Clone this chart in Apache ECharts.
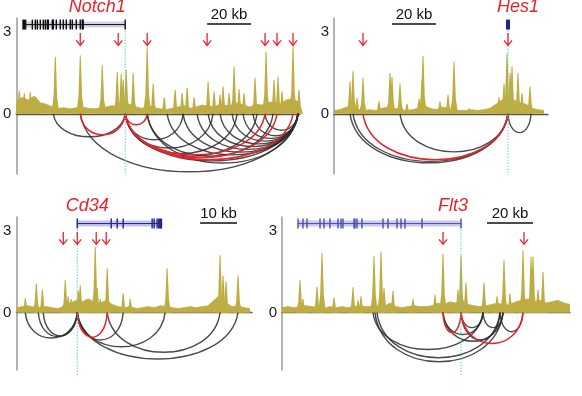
<!DOCTYPE html>
<html>
<head>
<meta charset="utf-8">
<title>loops</title>
<script src="https://cdn.jsdelivr.net/npm/echarts@6.0.0/dist/echarts.min.js"></script>
<style>
html,body{margin:0;padding:0;background:#fff;}
#main{width:582px;height:396px;}
</style>
</head>
<body>
<div id="main"></div>
<script>
// ---- data (x = position along the locus, y = signal) ----
// Notch1
var notchBg = [0.45,0.6,0.5,0.65,0.4,0.35,0.25,0.2,0.22,0.18,0.22,0.25,0.2,0.18,0.22,0.25,0.3,0.25,0.3,0.35,0.25,0.2,0.3,0.22,0.18,0.15,0.2,0.25,0.3,0.2,0.25,0.32,0.28,0.25,0.35,0.3,0.32,0.4,0.3,0.25,0.35,0.32,0.4,0.45,0.35,0.5,0.55,0.45];
var notchPeaks = [[3,0.85],[8,0.75],[14,0.8],[20,0.6],[39,2.08],[64,2.14],[86,1.77],[101,1.52],[105,1.45],[107,1.25],[110,1.6],[117,1.5],[131,2.45],[137,1.1],[148,0.6],[159,0.88],[166,0.76],[171,0.95],[178,0.6],[192,1.18],[198,0.82],[204,0.7],[207,1.0],[213,0.76],[218,1.72],[223,0.91],[228,0.76],[239,1.32],[250,2.28],[258,1.24],[262,1.36],[266,0.82],[277,2.46],[283,0.88]];
var notchLoops = [[37,109,-0.84],[64,282,-2.12],[131,282,-1.8],[109,167,-0.95],[109,197,-1.25],[109,221,-1.45],[109,241,-1.55],[109,282,-1.72],[131,257,-1.55],[151,282,-1.5],[167,282,-1.4],[181,282,-1.3],[192,282,-1.2],[204,282,-1.1],[216,282,-1.0],[227,282,-0.9],[237,282,-0.8],[249,282,-0.6]];
var notchRedLoops = [[64,109,-0.77],[109,131,-0.4],[109,249,-1.5],[109,261,-1.6],[109,277,-1.68]];
var notchArrows = [64,102,131,191,249,261,277];
var notchExons = [16,19,21,24,27,29,31,32,36,37,40,44,47,50,54,56,60,64,66,67,109];

// Hes1
var hesBg = [0.12,0.15,0.25,0.2,0.15,0.12,0.15,0.12,0.2,0.25,0.2,0.15,0.12,0.15,0.2,0.3,0.2,0.15,0.25,0.2,0.15,0.12,0.12,0.15,0.12,0.15,0.2,0.35,0.5,0.65,0.5,0.4,0.35,0.2,0.15,0.12];
var hesPeaks = [[16,1.18],[19,1.55],[23,0.58],[29,1.31],[45,0.45],[56,1.49],[58,1.35],[66,1.12],[73,0.37],[85,0.55],[88,1.24],[89,2.12],[106,0.45],[114,0.7],[120,1.91],[135,0.2],[165,0.6],[170,1.1],[173,2.2],[176,1.5],[178,1.73],[184,1.49],[188,0.76],[196,1.0]];
var hesLoops = [[16,174,-1.79],[19,174,-1.74],[66,174,-1.39],[174,197,-0.69]];
var hesRedLoops = [[29,174,-1.68]];
var hesArrows = [29,174];
var hesExons = [];

// Cd34
var cdBg = [0.18,0.22,0.25,0.2,0.18,0.22,0.18,0.15,0.25,0.35,0.45,0.4,0.5,0.4,0.35,0.45,0.3,0.22,0.18,0.22,0.15,0.18,0.22,0.18,0.25,0.22,0.18,0.15,0.18,0.22,0.18,0.22,0.25,0.45,0.65,0.35,0.22,0.25,0.18,0.15];
var cdPeaks = [[9,0.53],[20,1.07],[26,0.84],[49,1.19],[52,0.6],[55,0.5],[62,0.8],[64,1.0],[70,0.5],[79,2.4],[81,0.9],[84,0.5],[91,1.62],[107,0.71],[114,0.5],[151,1.62],[204,2.1],[207,1.35],[210,1.15],[222,1.37]];
var cdLoops = [[9,61,-0.93],[22,61,-0.88],[27,61,-0.85],[61,107,-1.0],[61,149,-1.25],[91,204,-1.45],[61,222,-1.7]];
var cdRedLoops = [[61,91,-0.9]];
var cdArrows = [47,61,80,90];
var cdExons = [61,95,101,107,136,138,141];

// Flt3
var fltBg = [0.18,0.22,0.18,0.22,0.25,0.22,0.18,0.15,0.22,0.18,0.22,0.18,0.22,0.25,0.22,0.22,0.25,0.22,0.35,0.22,0.18,0.22,0.25,0.22,0.22,0.25,0.35,0.3,0.4,0.35,0.45,0.3,0.25,0.22,0.25,0.3,0.35,0.25,0.3,0.4,0.45,0.5,0.4,0.45,0.35,0.4,0.45,0.35,0.3];
var fltPeaks = [[18,1.2],[21,0.5],[35,0.95],[40,2.18],[52,0.55],[71,0.93],[76,0.45],[79,0.6],[92,2.08],[99,2.24],[102,0.9],[111,0.8],[131,0.5],[153,0.65],[161,2.15],[176,0.85],[179,2.1],[184,1.1],[202,1.1],[215,0.6],[222,1.93],[228,0.7],[241,2.28],[249,2.04],[251,2.05],[256,0.85],[261,1.5]];
var fltLoops = [[91,201,-1.35],[93,221,-1.8],[95,218,-1.65],[161,221,-1.05],[161,201,-0.8],[179,201,-0.55],[179,218,-1.0],[201,221,-0.55],[218,241,-0.7]];
var fltRedLoops = [[161,179,-0.73],[179,241,-1.13]];
var fltArrows = [161,242];
var fltExons = [16,21,25,38,42,48,56,59,61,72,73,75,80,101,106,115,119,123,140,179];

var yTicks = [0, 3];

// ---- styles ----
var olive = '#bead42';
var red = '#e8232b';
var teal = '#56d2b2';
var font = '"Liberation Sans", Arial, sans-serif';
var bgStep = 6;

var panels = [
  {name:'Notch1', bg:notchBg, peaks:notchPeaks, loops:notchLoops, red:notchRedLoops, arrows:notchArrows, exons:notchExons,
   gene:[7,109], block:[6,10], geneColor:'#111', band:'#d2d2e0', tss:109, low:-2.24, labelAt:81, scale:[191,235], scaleText:'20 kb',
   grid:{left:16, top:18, width:284, height:156}, ymin:-2.2},
  {name:'Hes1', bg:hesBg, peaks:hesPeaks, loops:hesLoops, red:hesRedLoops, arrows:hesArrows, exons:hesExons,
   gene:[172,176], block:[172,176], geneColor:'#23238a', band:null, tss:174, low:-2.24, labelAt:184, scale:[58,102], scaleText:'20 kb',
   grid:{left:334, top:18, width:214, height:156}, ymin:-2.2},
  {name:'Cd34', bg:cdBg, peaks:cdPeaks, loops:cdLoops, red:cdRedLoops, arrows:cdArrows, exons:cdExons,
   gene:[61,146], block:[142,146], geneColor:'#23238a', band:'#c4c4ea', tss:61, low:-2.28, labelAt:71, scale:[184,221], scaleText:'10 kb',
   grid:{left:16, top:217, width:236, height:153}, ymin:-2.1},
  {name:'Flt3', bg:fltBg, peaks:fltPeaks, loops:fltLoops, red:fltRedLoops, arrows:fltArrows, exons:fltExons,
   gene:[16,179], block:null, geneColor:'#4d4dae', band:'#cacaee', tss:179, low:-2.28, labelAt:171, scale:[205,251], scaleText:'20 kb',
   grid:{left:282, top:217, width:288, height:153}, ymin:-2.1}
];

// peak drawn as a spike with shoulders
function peakItem(params, api){
  var t = api.coord([api.value(0), api.value(1)]);
  var b = api.coord([api.value(0), 0]);
  var h = b[1] - t[1];
  return {type:'polygon', shape:{points:[[t[0]-4,b[1]],[t[0]-1.8,b[1]-h*0.3],[t[0]-0.5,t[1]],[t[0]+0.5,t[1]],[t[0]+1.8,b[1]-h*0.3],[t[0]+4,b[1]]]},
    style:{fill:olive}};
}

// loop drawn as a U curve under the axis
function loopItem(color, width){
  return function(params, api){
    var a = api.coord([api.value(0), 0]);
    var b = api.coord([api.value(1), 0]);
    var c = api.coord([api.value(0), api.value(2)]);
    var x1 = a[0], x2 = b[0], y0 = a[1], w = x2 - x1;
    var cy = y0 + (c[1] - y0) * 4 / 3;
    var path = 'M' + x1 + ' ' + y0 + ' C' + (x1 + 0.06*w) + ' ' + cy + ' ' + (x2 - 0.06*w) + ' ' + cy + ' ' + x2 + ' ' + y0;
    return {type:'path', shape:{pathData:path}, style:{fill:'none', stroke:color, lineWidth:width}};
  };
}

// gene model, arrows, tss line, scale bar, name
function annotate(p){
  return function(params, api){
    var kids = [];
    var gy = api.coord([0, 3.26])[1];
    var t1 = api.coord([p.tss, 3.26]), t2 = api.coord([p.tss, p.low]);
    kids.push({type:'line', shape:{x1:t1[0], y1:t1[1], x2:t2[0], y2:t2[1]}, style:{stroke:teal, lineWidth:1, lineDash:[1.5,1.5]}});
    var g1 = api.coord([p.gene[0], 3.26]), g2 = api.coord([p.gene[1], 3.26]);
    if (p.band) {
      kids.push({type:'rect', shape:{x:g1[0], y:gy-3, width:g2[0]-g1[0], height:6}, style:{fill:p.band}});
    }
    kids.push({type:'line', shape:{x1:g1[0], y1:gy, x2:g2[0], y2:gy}, style:{stroke:p.geneColor, lineWidth:1}});
    p.exons.forEach(function(e){
      var c = api.coord([e, 3.26]);
      kids.push({type:'rect', shape:{x:c[0]-0.7, y:gy-5, width:1.4, height:10}, style:{fill:p.geneColor}});
    });
    if (p.block) {
      var b1 = api.coord([p.block[0], 3.26]), b2 = api.coord([p.block[1], 3.26]);
      kids.push({type:'rect', shape:{x:b1[0], y:gy-5, width:b2[0]-b1[0], height:10}, style:{fill:p.geneColor}});
    }
    p.arrows.forEach(function(a){
      var top = api.coord([a, 2.95]), bot = api.coord([a, 2.5]);
      kids.push({type:'line', shape:{x1:top[0], y1:top[1], x2:bot[0], y2:bot[1]}, style:{stroke:red, lineWidth:1.3}});
      kids.push({type:'polyline', shape:{points:[[bot[0]-4, bot[1]-5],[bot[0], bot[1]],[bot[0]+4, bot[1]-5]]}, style:{stroke:red, fill:'none', lineWidth:1.3}});
    });
    var s1 = api.coord([p.scale[0], 3.28]), s2 = api.coord([p.scale[1], 3.28]), st = api.coord([(p.scale[0]+p.scale[1])/2, 3.6]);
    kids.push({type:'line', shape:{x1:s1[0], y1:s1[1], x2:s2[0], y2:s2[1]}, style:{stroke:'#111', lineWidth:1.5}});
    kids.push({type:'text', style:{text:p.scaleText, x:st[0], y:st[1], fill:'#111', font:'15px ' + font, align:'center', verticalAlign:'middle'}});
    var n = api.coord([p.labelAt, 3.9]);
    kids.push({type:'text', style:{text:p.name, x:n[0], y:n[1], fill:red, font:'italic 18px ' + font, align:'center', verticalAlign:'middle'}});
    return {type:'group', children:kids};
  };
}

var option = {animation:false, backgroundColor:'#fff', grid:[], xAxis:[], yAxis:[], series:[]};

panels.forEach(function(p, i){
  option.grid.push(p.grid);
  option.xAxis.push({type:'value', gridIndex:i, min:0, max:p.grid.width,
    axisLine:{show:true, onZero:true, lineStyle:{color:'#555', width:1.3}},
    axisTick:{show:false}, axisLabel:{show:false}, splitLine:{show:false}});
  option.yAxis.push({type:'value', gridIndex:i, min:p.ymin, max:3.5,
    axisLine:{show:true, onZero:false, lineStyle:{color:'#9a9a9a', width:1.5}},
    axisTick:{show:false}, splitLine:{show:false},
    axisLabel:{customValues:yTicks, color:'#222', fontSize:15, fontFamily:font, margin:5}});
  option.series.push({type:'line', xAxisIndex:i, yAxisIndex:i, symbol:'none', silent:true, z:2,
    data:p.bg.map(function(v, k){ return [k*bgStep, v]; }),
    lineStyle:{color:olive, width:0.8}, areaStyle:{color:olive, opacity:1}});
  option.series.push({type:'custom', xAxisIndex:i, yAxisIndex:i, silent:true, z:2,
    encode:{x:0, y:1}, data:p.peaks, renderItem:peakItem});
  option.series.push({type:'custom', xAxisIndex:i, yAxisIndex:i, silent:true, z:3,
    encode:{x:[0,1], y:2}, data:p.loops, renderItem:loopItem('rgba(45,45,45,0.85)', 1.4)});
  option.series.push({type:'custom', xAxisIndex:i, yAxisIndex:i, silent:true, z:4,
    encode:{x:[0,1], y:2}, data:p.red, renderItem:loopItem(red, 1.5)});
  option.series.push({type:'custom', xAxisIndex:i, yAxisIndex:i, silent:true, z:5,
    data:[[0]], renderItem:annotate(p)});
});

var chart = echarts.init(document.getElementById('main'));
chart.setOption(option);
</script>
</body>
</html>
